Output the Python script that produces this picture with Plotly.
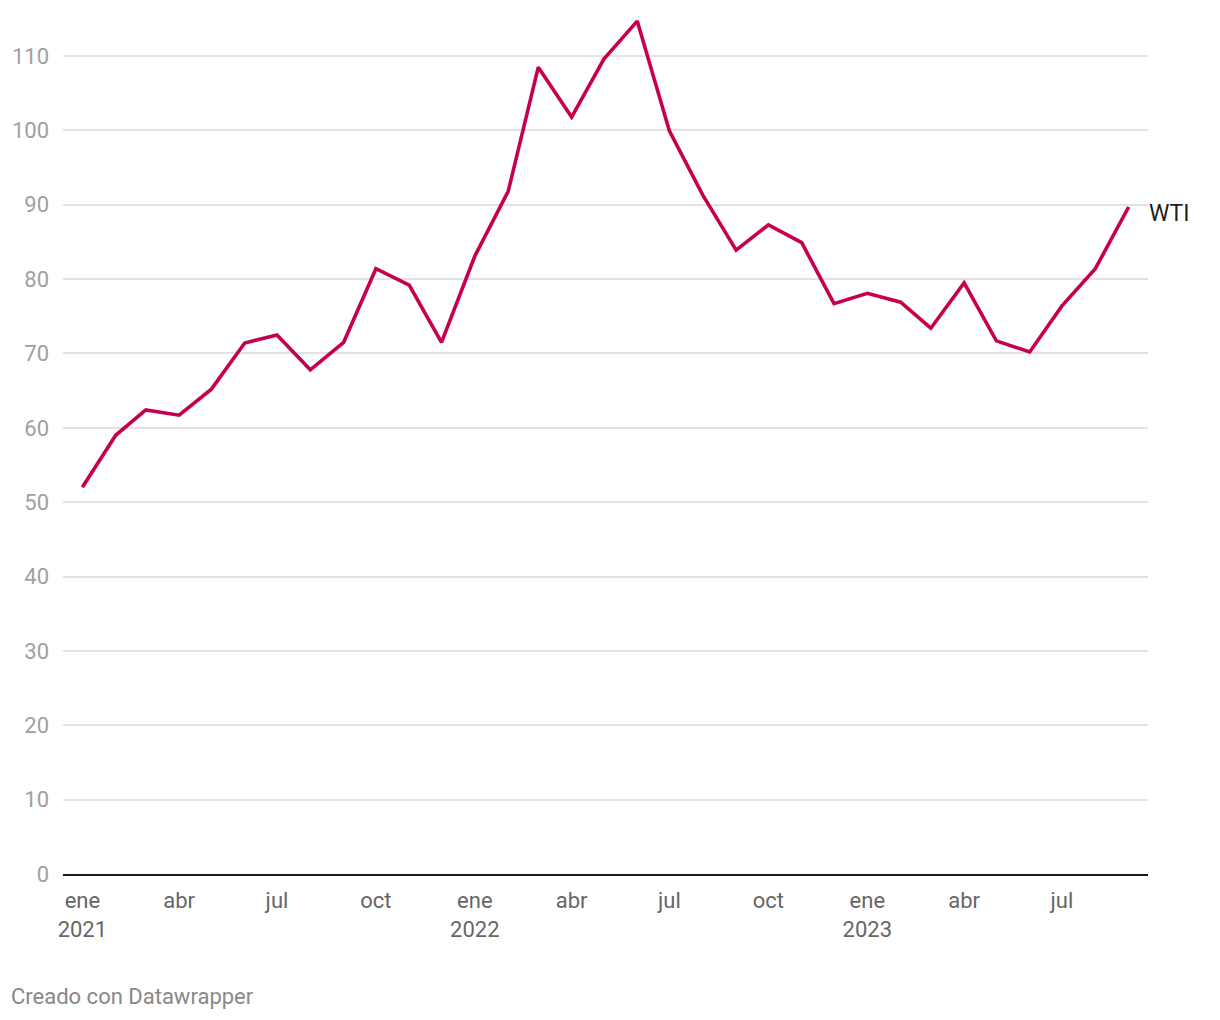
import plotly.graph_objects as go

months = [
    "2021-01-01", "2021-02-01", "2021-03-01", "2021-04-01", "2021-05-01", "2021-06-01",
    "2021-07-01", "2021-08-01", "2021-09-01", "2021-10-01", "2021-11-01", "2021-12-01",
    "2022-01-01", "2022-02-01", "2022-03-01", "2022-04-01", "2022-05-01", "2022-06-01",
    "2022-07-01", "2022-08-01", "2022-09-01", "2022-10-01", "2022-11-01", "2022-12-01",
    "2023-01-01", "2023-02-01", "2023-03-01", "2023-04-01", "2023-05-01", "2023-06-01",
    "2023-07-01", "2023-08-01", "2023-09-01",
]
wti = [
    52.0, 59.0, 62.4, 61.7, 65.2, 71.4, 72.5, 67.8, 71.5, 81.4, 79.2, 71.5,
    83.1, 91.8, 108.5, 101.8, 109.6, 114.7, 99.9, 91.3, 83.9, 87.3, 84.9, 76.7,
    78.1, 76.9, 73.4, 79.5, 71.7, 70.2, 76.4, 81.4, 89.7,
]
series_name = "WTI"

x_tick_vals = [
    "2021-01-01", "2021-04-01", "2021-07-01", "2021-10-01",
    "2022-01-01", "2022-04-01", "2022-07-01", "2022-10-01",
    "2023-01-01", "2023-04-01", "2023-07-01",
]
x_tick_text = [
    "ene<br>2021", "abr", "jul", "oct",
    "ene<br>2022", "abr", "jul", "oct",
    "ene<br>2023", "abr", "jul",
]
y_tick_vals = [0, 10, 20, 30, 40, 50, 60, 70, 80, 90, 100, 110]
credit = "Creado con Datawrapper"

fig = go.Figure()
fig.add_trace(go.Scatter(
    x=months, y=wti, mode="lines", name=series_name,
    line=dict(color="#c6004f", width=3.6),
    hoverinfo="skip",
))

fig.add_annotation(
    x=months[-1], y=wti[-1], text=series_name, showarrow=False,
    xanchor="left", yanchor="middle", xshift=18, yshift=-7,
    font=dict(family="Roboto", size=23, color="#1d1d1d"),
)
# plot area: 866 px tall, 1085 px wide (page body has an 8px margin)
fig.add_annotation(
    xref="paper", yref="paper", x=-0.0497, y=-0.142, text=credit,
    showarrow=False, xanchor="left", yanchor="middle",
    font=dict(family="Roboto", size=22, color="#888888"),
)

fig.update_layout(
    width=1212, height=1012,
    margin=dict(l=55, r=72, t=0, b=146, pad=0),
    paper_bgcolor="white", plot_bgcolor="white",
    showlegend=False,
    font=dict(family="Roboto"),
    xaxis=dict(
        type="date",
        range=["2020-12-14", "2023-09-19"],
        tickvals=x_tick_vals, ticktext=x_tick_text,
        tickfont=dict(family="Roboto", size=22, color="#666666"),
        showgrid=False, zeroline=False,
        showline=True, linecolor="#1a1a1a", linewidth=2,
        ticks="", ticklabelstandoff=6,
    ),
    yaxis=dict(
        range=[0, 116.46],
        tickvals=y_tick_vals,
        tickfont=dict(family="Roboto", size=22, color="#a0a0a0"),
        showgrid=True, gridcolor="#e3e3e3", gridwidth=1.5,
        zeroline=False, showline=False,
        ticks="", ticklabelstandoff=13,
    ),
)

fig.write_html("out.html")
